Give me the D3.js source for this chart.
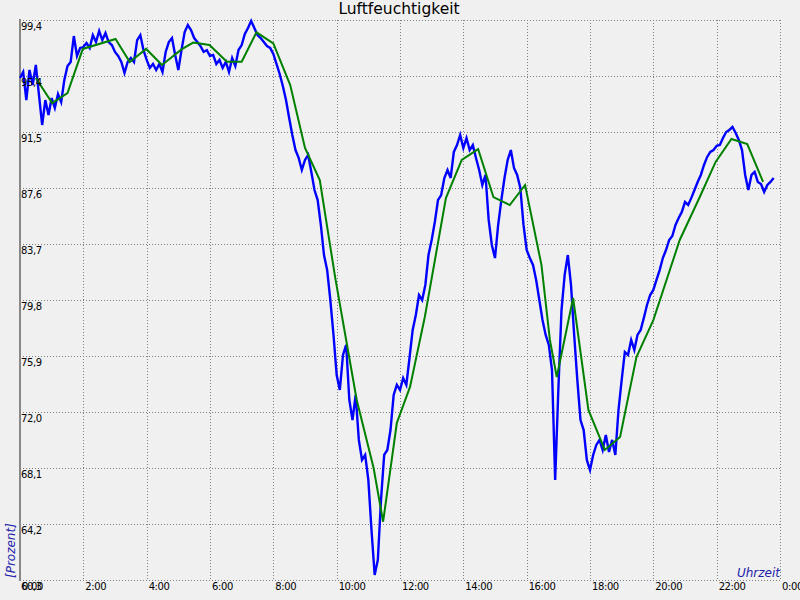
<!DOCTYPE html>
<html>
<head>
<meta charset="utf-8">
<script src="https://cdn.jsdelivr.net/npm/d3@7"></script>
<style>
  html, body { margin: 0; padding: 0; background: #f0f0f0; }
  svg { display: block; }
  text { font-family: "DejaVu Sans", sans-serif; }
</style>
</head>
<body>
<svg id="chart" width="800" height="600"></svg>
<script>
// ---- data ----
const title = "Luftfeuchtigkeit";
const yAxisTitle = "[Prozent]";
const xAxisTitle = "Uhrzeit";
const yMin = 60.3, yMax = 99.4;
const yTickLabels = ["60,3","64,2","68,1","72,0","75,9","79,8","83,7","87,6","91,5","95,4","99,4"];
const xTickLabels = ["0:00","2:00","4:00","6:00","8:00","10:00","12:00","14:00","16:00","18:00","20:00","22:00","0:00"];
const xTickMinutes = [0,120,240,360,480,600,720,840,960,1080,1200,1320,1440];

// measured humidity (blue), one reading every 6 minutes starting 0:00
const blueStartMinute = 0;
const blueStepMinutes = 6;
const blueValues = [95.35, 95.77, 93.81, 95.91, 94.86, 96.26, 94.16, 92.07, 93.81, 92.77, 93.95, 93.26, 94.23, 93.67, 95.21, 96.19, 96.47, 98.28, 96.89, 97.45, 97.51, 97.79, 97.45, 98.35, 97.86, 98.63, 98.00, 98.49, 97.86, 97.65, 97.17, 96.89, 96.47, 95.70, 96.47, 96.75, 96.47, 98.00, 98.35, 97.30, 96.61, 96.05, 96.33, 95.91, 96.33, 95.77, 97.17, 97.86, 98.14, 96.96, 95.91, 97.30, 98.56, 99.05, 98.70, 98.14, 97.86, 97.58, 97.17, 97.30, 96.89, 96.96, 96.33, 96.61, 96.05, 96.47, 95.77, 96.75, 96.19, 97.30, 97.65, 98.42, 98.84, 99.33, 98.84, 98.35, 98.14, 97.86, 97.58, 97.45, 97.03, 96.33, 95.63, 94.79, 93.81, 92.56, 91.37, 90.32, 89.77, 88.93, 89.63, 89.98, 88.79, 87.53, 86.83, 85.09, 82.99, 81.94, 79.85, 77.41, 74.61, 73.57, 76.01, 76.71, 72.87, 71.47, 73.22, 70.08, 68.68, 69.03, 67.29, 63.79, 60.65, 61.70, 65.89, 69.03, 69.38, 70.77, 73.22, 73.92, 73.57, 74.40, 73.92, 75.80, 77.76, 78.80, 80.20, 79.85, 80.90, 82.99, 84.04, 85.30, 86.83, 87.18, 88.37, 88.93, 88.37, 90.19, 90.67, 91.37, 90.46, 91.16, 90.32, 90.67, 89.77, 88.93, 87.88, 88.58, 85.44, 83.69, 82.78, 85.09, 86.83, 88.37, 89.63, 90.32, 89.07, 88.58, 87.67, 85.09, 83.34, 82.78, 82.30, 81.25, 79.85, 78.45, 77.41, 76.71, 74.96, 67.29, 73.57, 79.15, 81.60, 82.99, 80.90, 77.41, 74.26, 71.47, 70.77, 68.68, 67.98, 69.03, 69.73, 70.08, 69.38, 70.42, 69.24, 70.08, 69.03, 72.17, 74.26, 76.22, 76.01, 77.06, 76.36, 77.41, 77.76, 78.60, 79.50, 80.20, 80.55, 81.25, 81.94, 82.78, 83.34, 84.04, 84.32, 85.09, 85.58, 86.00, 86.70, 86.49, 86.98, 87.53, 88.09, 88.58, 89.28, 89.84, 90.19, 90.32, 90.61, 90.67, 91.16, 91.58, 91.72, 91.93, 91.51, 91.03, 90.32, 88.58, 87.53, 88.58, 88.79, 88.09, 87.95, 87.39, 87.88, 88.09, 88.37];

// smoothed humidity (green)
const greenMinutes = [30, 61, 90, 119, 181, 208, 239, 269, 306, 328, 359, 392, 420, 448, 480, 512, 540, 568, 597, 619, 638, 670, 688, 714, 739, 767, 807, 837, 868, 897, 928, 957, 988, 1004, 1017, 1048, 1077, 1108, 1137, 1168, 1200, 1250, 1288, 1318, 1348, 1378, 1408];
const greenValues = [95.35, 93.6, 94.3, 97.38, 98.07, 96.47, 97.38, 96.26, 97.35, 97.82, 97.65, 96.49, 96.49, 98.54, 97.77, 94.86, 90.46, 88.23, 81.46, 76.85, 72.87, 68.12, 64.37, 71.26, 73.78, 78.66, 86.97, 89.63, 90.39, 87.04, 86.48, 87.88, 82.3, 77.06, 74.47, 79.99, 72.17, 69.38, 70.28, 75.87, 78.45, 84.04, 87.04, 89.49, 91.09, 90.74, 88.09];

// ---- drawing ----
const svg = d3.select("#chart");
const plotLeft = 20, plotRight = 780, plotTop = 20, plotBottom = 580;

const x = d3.scaleLinear().domain([0, 1440]).range([plotLeft, plotRight]);
const y = d3.scaleLinear().domain([yMin, yMax]).range([plotBottom, plotTop]);

svg.append("rect").attr("width", 800).attr("height", 600).attr("fill", "#f0f0f0");

const yTickVals = yTickLabels.map((_, i) => yMin + (yMax - yMin) * i / (yTickLabels.length - 1));

// horizontal grid
svg.append("g").selectAll("line").data(yTickVals).join("line")
  .attr("x1", plotLeft).attr("x2", plotRight)
  .attr("y1", d => Math.round(y(d)) + 0.5).attr("y2", d => Math.round(y(d)) + 0.5)
  .attr("stroke", "#808080").attr("stroke-width", 1).attr("stroke-dasharray", "1,2");

// vertical grid
svg.append("g").selectAll("line").data(xTickMinutes.slice(1)).join("line")
  .attr("x1", d => Math.round(x(d)) + 0.5).attr("x2", d => Math.round(x(d)) + 0.5)
  .attr("y1", plotTop).attr("y2", plotBottom)
  .attr("stroke", "#808080").attr("stroke-width", 1).attr("stroke-dasharray", "1,2");

// left axis line
svg.append("line").attr("x1", plotLeft).attr("x2", plotLeft).attr("y1", plotTop - 1).attr("y2", plotBottom + 1)
  .attr("stroke", "#888888").attr("stroke-width", 2);

// series
const blueData = blueValues.map((v, i) => ({t: blueStartMinute + i * blueStepMinutes, v}));
const greenData = greenValues.map((v, i) => ({t: greenMinutes[i], v}));
const line = d3.line().x(d => x(d.t)).y(d => y(d.v));

svg.append("path").datum(blueData).attr("d", line)
  .attr("fill", "none").attr("stroke", "#0000ff").attr("stroke-width", 2.4).attr("stroke-linejoin", "miter");
svg.append("path").datum(greenData).attr("d", line)
  .attr("fill", "none").attr("stroke", "#008000").attr("stroke-width", 2);

// y tick labels
svg.append("g").selectAll("text").data(yTickVals).join("text")
  .attr("x", plotLeft + 1).attr("y", d => y(d) + 10)
  .attr("font-size", 10).attr("letter-spacing", "-0.4px").attr("fill", "#000")
  .text((d, i) => yTickLabels[i]);

// x tick labels
svg.append("g").selectAll("text").data(xTickMinutes).join("text")
  .attr("x", d => x(d) + 2).attr("y", 589.5)
  .attr("font-size", 10).attr("letter-spacing", "-0.4px").attr("fill", "#000")
  .text((d, i) => xTickLabels[i]);

// title
svg.append("text").attr("x", 399).attr("y", 14).attr("text-anchor", "middle")
  .attr("font-size", 15.5).attr("fill", "#000").text(title);

// axis titles
svg.append("text").attr("transform", "translate(14.5,578) rotate(-90)")
  .attr("font-size", 12).attr("font-style", "italic").attr("fill", "#2222aa").text(yAxisTitle);
svg.append("text").attr("x", 780).attr("y", 577).attr("text-anchor", "end")
  .attr("font-size", 12).attr("font-style", "italic").attr("fill", "#2222aa").text(xAxisTitle);
</script>
</body>
</html>
